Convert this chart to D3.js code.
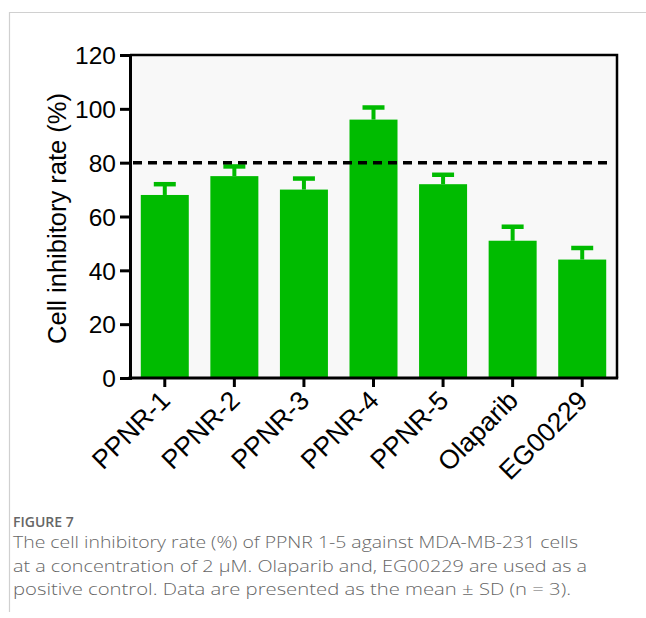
<!doctype html>
<html>
<head>
<meta charset="UTF-8">
<script src="https://d3js.org/d3.v7.min.js"></script>
<style>
  body { margin: 0; background: #fff; }
</style>
</head>
<body>
<script>
  // data
  var compounds = ["PPNR-1", "PPNR-2", "PPNR-3", "PPNR-4", "PPNR-5", "Olaparib", "EG00229"]
  var means = [68, 75, 70, 96, 72, 51, 44]
  var sds = [4, 3.6, 4.1, 4.5, 3.5, 5.2, 4.3]
  var yTicks = [0, 20, 40, 60, 80, 100, 120]
  var threshold = 80
  var captionLines = [
    "The cell inhibitory rate (%) of PPNR 1-5 against MDA-MB-231 cells",
    "at a concentration of 2 \u03bcM. Olaparib and, EG00229 are used as a",
    "positive control. Data are presented as the mean \u00b1 SD (n = 3)."
  ]

  var width = 646, height = 618
  var plotL = 130, plotR = 617, plotT = 55, plotB = 378
  var green = "#00bb00"
  var font = "'Liberation Sans', Arial, sans-serif"

  var svg = d3.select("body").append("svg")
    .attr("width", width)
    .attr("height", height)

  // frame lines of the page
  svg.append("line").attr("x1", 9).attr("x2", width).attr("y1", 12.5).attr("y2", 12.5)
    .style("stroke", "#d0d0d0").style("stroke-width", 1.2)
  svg.append("line").attr("x1", 9.5).attr("x2", 9.5).attr("y1", 12).attr("y2", 612)
    .style("stroke", "#d0d0d0").style("stroke-width", 1.2)

  var x = d3.scaleBand()
    .domain(compounds)
    .range([plotL, plotR])
    .paddingInner(0.31)
    .paddingOuter(0.155)

  var y = d3.scaleLinear()
    .domain([0, 120])
    .range([plotB, plotT])

  // plot background
  svg.append("rect")
    .attr("x", plotL).attr("y", plotT)
    .attr("width", plotR - plotL).attr("height", plotB - plotT)
    .style("fill", "#f8f8f8")

  // bars
  svg.selectAll(".bar")
    .data(compounds)
    .enter()
    .append("rect")
    .attr("class", "bar")
    .attr("x", d => x(d))
    .attr("width", x.bandwidth())
    .attr("y", (d, i) => y(means[i]))
    .attr("height", (d, i) => y(0) - y(means[i]))
    .style("fill", green)

  // upper error bars
  svg.selectAll(".stem")
    .data(compounds)
    .enter()
    .append("line")
    .attr("x1", d => x(d) + x.bandwidth() / 2)
    .attr("x2", d => x(d) + x.bandwidth() / 2)
    .attr("y1", (d, i) => y(means[i]))
    .attr("y2", (d, i) => y(means[i] + sds[i]))
    .style("stroke", green).style("stroke-width", 4)

  svg.selectAll(".cap")
    .data(compounds)
    .enter()
    .append("line")
    .attr("x1", d => x(d) + x.bandwidth() / 2 - 11)
    .attr("x2", d => x(d) + x.bandwidth() / 2 + 11)
    .attr("y1", (d, i) => y(means[i] + sds[i]))
    .attr("y2", (d, i) => y(means[i] + sds[i]))
    .style("stroke", green).style("stroke-width", 4.5)

  // dashed 80% line
  svg.append("line")
    .attr("x1", plotL + 3).attr("x2", plotR - 8)
    .attr("y1", y(threshold)).attr("y2", y(threshold))
    .style("stroke", "#000").style("stroke-width", 3.5)
    .style("stroke-dasharray", "9,6")

  // box: top and right
  svg.append("path")
    .attr("d", "M" + plotL + "," + plotT + "H" + plotR + "V" + plotB)
    .style("fill", "none").style("stroke", "#000").style("stroke-width", 2.5)

  var yAxis = svg.append("g")
    .attr("transform", "translate(" + plotL + ",0)")
    .call(d3.axisLeft(y).tickValues(yTicks).tickSize(10).tickPadding(4))
  yAxis.select(".domain").style("stroke-width", 3)
  yAxis.selectAll(".tick line").style("stroke-width", 3)
  yAxis.selectAll("text")
    .style("font-family", font).style("font-size", "24.5px").attr("dy", "0.36em")

  var xAxis = svg.append("g")
    .attr("transform", "translate(0," + plotB + ")")
    .call(d3.axisBottom(x).tickSize(9).tickSizeOuter(0))
  xAxis.select(".domain").style("stroke-width", 3)
    .attr("d", "M" + (plotL - 1.5) + ",0H" + (plotR + 1.2))
  xAxis.selectAll(".tick line").style("stroke-width", 3)
  xAxis.selectAll("text")
    .style("font-family", font).style("font-size", "26.5px")
    .attr("text-anchor", "end")
    .attr("dy", "0")
    .attr("transform", "translate(7,24) rotate(-45)")
    .attr("y", 0).attr("x", 0)

  svg.append("text")
    .text("Cell inhibitory rate (%)")
    .style("font-family", font).style("font-size", "25.5px")
    .attr("text-anchor", "middle")
    .attr("transform", "translate(66," + ((plotT + plotB) / 2 + 2) + ") rotate(-90)")

  // caption
  svg.append("text")
    .text("FIGURE 7")
    .attr("x", 13).attr("y", 527)
    .style("font-family", "'Open Sans', sans-serif").style("font-size", "14px")
    .style("font-weight", 600).style("fill", "#666")

  svg.selectAll(".cap-line")
    .data(captionLines)
    .enter()
    .append("text")
    .text(d => d)
    .attr("x", 13)
    .attr("y", (d, i) => 548 + i * 23.5)
    .attr("textLength", (d, i) => [565, 574, 558][i])
    .attr("lengthAdjust", "spacingAndGlyphs")
    .style("font-family", "'Open Sans', sans-serif").style("font-size", "17px")
    .style("font-weight", 300).style("fill", "#666")
</script>
</body>
</html>
